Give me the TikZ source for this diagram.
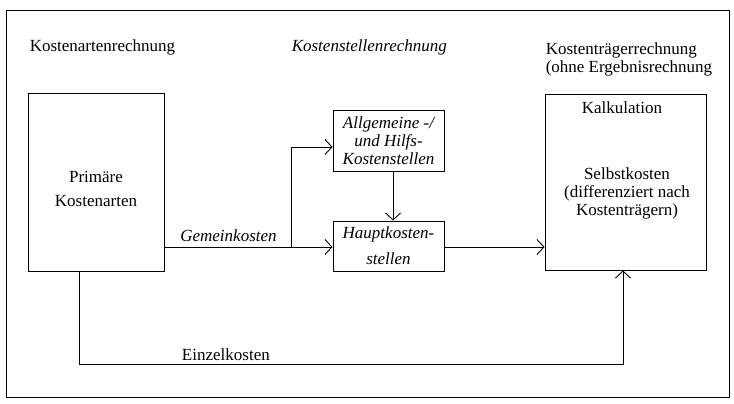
\documentclass[tikz,border=0pt]{standalone}
\usepackage{fontspec}
\setmainfont{Liberation Serif}
\usetikzlibrary{arrows.meta,positioning}
\tikzset{font=\fontsize{17}{18}\selectfont}
\tikzstyle{kasten}=[draw,line width=0.9pt,inner sep=0pt,align=center]
\begin{document}
\begin{tikzpicture}[x=1pt,y=-1pt,line width=0.9pt]
\useasboundingbox (0,0) rectangle (734,404);
\draw (6,10) rectangle (729,397);
% headings
\node[anchor=west] (KA) at (26,47) {Kostenartenrechnung};
\node[anchor=west] (KS) at (288,47) {\itshape Kostenstellenrechnung};
\node[anchor=west,align=left] (KT) at (542,59) {Kostenträgerrechnung\\(ohne Ergebnisrechnung};
% boxes
\node[kasten,minimum width=136,minimum height=178] (P) at (96,182) {};
\node[align=center] (PT) at (96,189) {Primäre\\[6pt]Kostenarten};
\node[kasten,minimum width=111,minimum height=61,font=\fontsize{17}{18}\selectfont\itshape] (A) at (388.5,140.5) {Allgemeine -/\\und Hilfs-\\Kostenstellen};
\node[kasten,minimum width=111,minimum height=50,font=\fontsize{17}{26}\selectfont\itshape] (H) at (388.5,246) {Hauptkosten-\\stellen};
\node[kasten,minimum width=161,minimum height=176] (K) at (625.5,182) {};
\node (KK) at (622,108) {Kalkulation};
\node[align=center] (KS2) at (627,193) {Selbstkosten\\(differenziert nach\\Kostenträgern)};
% connectors
\coordinate (g) at (291,247);
\coordinate (e1) at (79,364);
\coordinate (e2) at (623,364);
\path[->,>={Straight Barb[length=7pt,width=15pt]}]
(P.east |- g) edge node[above,font=\fontsize{17}{18}\selectfont\itshape,xshift=-20pt,yshift=2pt] {Gemeinkosten} (H.west |- g)
(H.east |- g) edge (K.west |- g)
(A.south -| 393,0) edge (H.north -| 393,0);
\draw[->,>={Straight Barb[length=7pt,width=15pt]}] (g) |- (A.west |- 0,147);
\draw[->,>={Straight Barb[length=7pt,width=15pt]}] (P.south -| e1) -- (e1) -- node[above,pos=0.27] {Einzelkosten} (e2) -- (K.south -| e2);
\end{tikzpicture}
\end{document}
